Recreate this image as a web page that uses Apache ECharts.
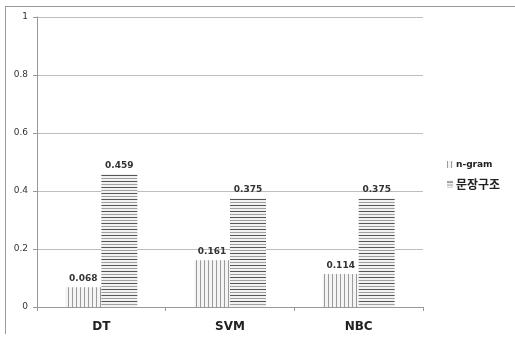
<!DOCTYPE html>
<html>
<head>
<meta charset="utf-8">
<script src="https://cdn.jsdelivr.net/npm/echarts@6/dist/echarts.min.js"></script>
<style>
  html, body { margin: 0; padding: 0; background: #fff; }
  #chart { width: 515px; height: 341px; }
</style>
</head>
<body>
<div id="chart"></div>
<script>
// Classifier accuracy comparison: n-gram features vs. sentence-structure features
const categories = ['DT', 'SVM', 'NBC'];
const ngramValues = [0.068, 0.161, 0.114];
const structureValues = [0.459, 0.375, 0.375];
const seriesNames = ['n-gram', '문장구조'];
const yTicks = [0, 0.2, 0.4, 0.6, 0.8, 1];

// Hatch fills: vertical strokes for n-gram, horizontal strokes for sentence structure
function verticalHatch() {
  const c = document.createElement('canvas');
  c.width = 4; c.height = 4;
  const g = c.getContext('2d');
  g.fillStyle = '#f4f4f4';
  g.fillRect(0, 0, 4, 4);
  g.fillStyle = '#9a9a9a';
  g.fillRect(0, 0, 1, 4);
  return c;
}
function horizontalHatch() {
  const c = document.createElement('canvas');
  c.width = 4; c.height = 6;
  const g = c.getContext('2d');
  g.fillStyle = '#f2f2f2';
  g.fillRect(0, 0, 4, 6);
  g.fillStyle = '#555555';
  g.fillRect(0, 1, 4, 1);
  g.fillStyle = '#a0a0a0';
  g.fillRect(0, 4, 4, 1);
  return c;
}

const chart = echarts.init(document.getElementById('chart'), null, { renderer: 'canvas' });

const labelStyle = {
  show: true,
  position: 'top',
  distance: 4,
  fontFamily: 'DejaVu Sans',
  fontSize: 9,
  fontWeight: 'bold',
  color: '#333',
  formatter: p => p.value.toFixed(3)
};

chart.setOption({
  animation: false,
  backgroundColor: '#fff',
  grid: { left: 37, right: 92, top: 17, bottom: 34 },
  xAxis: {
    type: 'category',
    data: categories,
    axisLine: { lineStyle: { color: '#999', width: 1 } },
    axisTick: { show: true, length: 4, alignWithLabel: false, lineStyle: { color: '#999' } },
    axisLabel: {
      fontFamily: 'DejaVu Sans',
      fontSize: 12,
      fontWeight: 'bold',
      color: '#222',
      margin: 14
    }
  },
  yAxis: {
    type: 'value',
    min: yTicks[0],
    max: yTicks[yTicks.length - 1],
    interval: 0.2,
    axisLine: { show: true, lineStyle: { color: '#999', width: 1 } },
    axisTick: { show: true, length: 4, lineStyle: { color: '#999' } },
    splitLine: { lineStyle: { color: '#bdbdbd', width: 1 } },
    axisLabel: {
      fontFamily: 'DejaVu Sans',
      fontSize: 9,
      color: '#333',
      margin: 9,
      formatter: v => (Math.round(v * 10) / 10).toString()
    }
  },
  legend: {
    orient: 'vertical',
    left: 442,
    top: 155,
    itemWidth: 6,
    itemHeight: 7,
    itemGap: 9,
    icon: 'rect',
    data: seriesNames,
    formatter: name => name === seriesNames[0] ? '{a|' + name + '}' : '{b|' + name + '}',
    textStyle: {
      padding: [0, 0, 0, -2],
      rich: {
        a: { fontFamily: 'DejaVu Sans', fontSize: 9, fontWeight: 'bold', color: '#222' },
        b: { fontFamily: 'Noto Sans CJK KR', fontSize: 12, fontWeight: 'bold', color: '#222' }
      }
    }
  },
  graphic: [
    { type: 'line', shape: { x1: 5, y1: 6.5, x2: 515, y2: 6.5 }, style: { stroke: '#9a9a9a', lineWidth: 1 } },
    { type: 'line', shape: { x1: 5.5, y1: 6, x2: 5.5, y2: 334 }, style: { stroke: '#9a9a9a', lineWidth: 1 } }
  ],
  series: [
    {
      name: seriesNames[0],
      type: 'bar',
      data: ngramValues,
      barWidth: 36,
      barGap: '0%',
      itemStyle: { color: { image: verticalHatch(), repeat: 'repeat' } },
      label: labelStyle
    },
    {
      name: seriesNames[1],
      type: 'bar',
      data: structureValues,
      barWidth: 36,
      itemStyle: { color: { image: horizontalHatch(), repeat: 'repeat' } },
      label: labelStyle
    }
  ]
});
</script>
</body>
</html>
